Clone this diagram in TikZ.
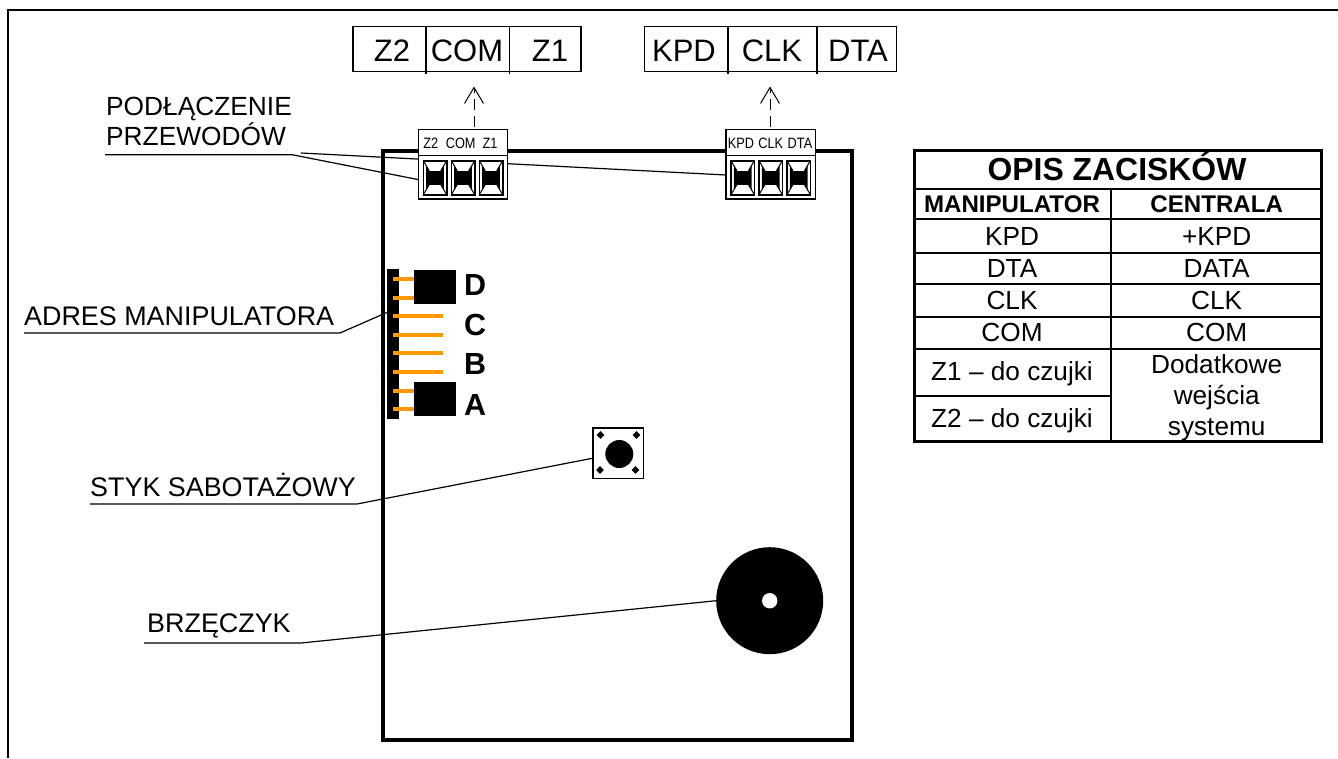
\documentclass[tikz,border=0pt]{standalone}
\usepackage{fontspec}
\setmainfont{Liberation Sans}
\newfontfamily\condfont[FakeStretch=0.85]{Liberation Sans}
\usetikzlibrary{arrows.meta,shapes.geometric}
\definecolor{pin}{RGB}{255,153,0}
\newcommand{\fs}[1]{\fontsize{#1}{#1}\selectfont}
\tikzset{
  cell/.style={draw=black,line width=1.2pt,fill=white,inner sep=0pt,outer sep=0pt},
  blockbox/.style={cell,line width=1.5pt,minimum width=89.4pt,minimum height=69.7pt},
  topcell/.style={anchor=base,inner sep=0pt,font=\fs{31}},
  smalllab/.style={anchor=base,inner sep=0pt,font=\condfont\fs{15}},
  leader/.style={draw=black,line width=1.2pt},
  lab/.style={anchor=base west,inner sep=0pt,font=\fs{26.9}},
  labb/.style={anchor=base west,inner sep=0pt,font=\fs{26.3}},
  pinline/.style={draw=pin,line width=4pt},
  jumper/.style={fill=black,inner sep=0pt,outer sep=0pt,minimum width=41.7pt,minimum height=34pt},
  letter/.style={anchor=base west,inner sep=0pt,font=\bfseries\fs{30.5}},
  tline/.style={draw=black,line width=1.8pt},
  ttext/.style={anchor=base,inner sep=0pt,font=\fs{26.2}},
  thead/.style={anchor=base,inner sep=0pt,font=\bfseries\fs{24.1}},
  upflow/.style={draw=black,line width=1pt,shorten <=2.5pt,dash pattern=on 11pt off 6pt,-{Straight Barb[length=16pt,width=19pt,line width=1pt]}},
  dot/.style={diamond,fill=black,inner sep=0pt,minimum size=8pt}
}
\newcommand{\termcell}[2]{%
  \node[cell,line width=1.6pt,minimum width=23.4pt,minimum height=34pt] (#1) at (#2,177.7) {};
  \node[fill=black,inner sep=0pt,outer sep=0pt,minimum width=11.6pt,minimum height=14pt] (#1c) at (#2,177.7) {};
  \draw[line width=1pt] (#1.north west) -- (#1c.north west) (#1.north east) -- (#1c.north east)
    (#1.south west) -- (#1c.south west) (#1.south east) -- (#1c.south east);
  \fill[black] (#1c.north west) -- ++(-3,-5) -- ++(0,24) -- (#1c.south west) -- cycle;
  \fill[black] (#1c.north east) -- ++(3,-5) -- ++(0,24) -- (#1c.south east) -- cycle;
}
\begin{document}
\begin{tikzpicture}[x=1pt,y=-1pt]
\useasboundingbox (0,0) rectangle (1338,758);
\draw[line width=2.2pt] (8,758) -- (8,10) -- (1338,10);

% top label boxes
\node[cell,minimum width=73pt,minimum height=45pt] (tz2) at (389.5,49.2) {};
\node[cell,minimum width=83.3pt,minimum height=45pt] (tcom) at (467.7,49.2) {};
\node[cell,minimum width=71.7pt,minimum height=45pt] (tz1) at (545.2,49.2) {};
\node[cell,minimum width=83.3pt,minimum height=45pt] (tkpd) at (686.3,49.2) {};
\node[cell,minimum width=89pt,minimum height=45pt] (tclk) at (772.5,49.2) {};
\node[cell,minimum width=79.7pt,minimum height=45pt] (tdta) at (856.9,49.2) {};
\draw[line width=1.2pt] (tz2.south east) -- ++(0,2.5) (tcom.south east) -- ++(0,2.5)
  (tkpd.south east) -- ++(0,2.5) (tclk.south east) -- ++(0,2.5);
\node[topcell] at (392,61) {Z2};
\node[topcell] at (467,61) {COM};
\node[topcell] at (550,61) {Z1};
\node[topcell] at (684,61) {KPD};
\node[topcell] at (772,61) {CLK};
\node[topcell] at (858,61) {DTA};

% board
\node[draw=black,line width=3.6pt,inner sep=0pt,minimum width=469pt,minimum height=589pt,fill=white] (board) at (617.7,445.3) {};

% label anchors for leaders
\coordinate (u1a) at (105,154.7);
\coordinate (u1b) at (292,154.7);
\coordinate (u1c) at (301,153);

% terminal blocks; the wire from the labels runs behind the first one
\coordinate (wireend) at (726,175);
\draw[leader] (u1c) -- (wireend);
\node[blockbox] (b1) at (463,164.2) {};
\node[blockbox] (b2) at (770.85,164.2) {};
\draw[line width=1.3pt] (b1.west |- 0,155.7) -- (b1.east |- 0,155.7);
\draw[line width=1.3pt] (b2.west |- 0,155.7) -- (b2.east |- 0,155.7);
\node[smalllab] at (430.7,148) {Z2};
\node[smalllab] at (460.7,148) {COM};
\node[smalllab] at (490,148) {Z1};
\node[smalllab] at (741,148) {KPD};
\node[smalllab] at (770.7,148) {CLK};
\node[smalllab] at (800,148) {DTA};
\termcell{ta}{435}
\termcell{tb}{463}
\termcell{tc}{491}
\termcell{td}{742.7}
\termcell{te}{770.7}
\termcell{tf}{798.7}

% arrows
\coordinate (up1) at (474,86.5);
\coordinate (up2) at (770,86.5);
\draw[upflow] (b1.north -| up1) -- (up1);
\draw[upflow] (b2.north -| up2) -- (up2);

% labels with leaders
\node[labb] (lpod) at (106,115) {PODŁĄCZENIE};
\node[labb] (lprz) at (106,145) {PRZEWODÓW};
\draw[leader] (u1a) -- (u1b) -- (b1.199.5);

\node[lab] (ladr) at (24,325) {ADRES MANIPULATORA};
\coordinate (u2a) at (24,333);
\coordinate (u2b) at (340,333);
\node[lab] (lsty) at (90,496) {STYK SABOTAŻOWY};
\coordinate (u3a) at (90,504);
\coordinate (u3b) at (357,504);
\node[lab] (lbrz) at (147,632) {BRZĘCZYK};
\coordinate (u4a) at (144,643);
\coordinate (u4b) at (301,643);

% header
\node[fill=black,inner sep=0pt,outer sep=0pt,minimum width=12.3pt,minimum height=149.7pt] (hdr) at (392.85,344.2) {};
\draw[leader] (u2a) -- (u2b) -- (hdr.101);
\foreach \y in {279.3,297.7,316.3,335,353.3,372,390.7,409} \draw[pinline] (393.3,\y) -- (443,\y);
\node[jumper] (jd) at (435.2,287.3) {};
\node[jumper] (ja) at (435.2,399.3) {};
\node[letter] at (464,295) {D};
\node[letter] at (464,335) {C};
\node[letter] at (464,374) {B};
\node[letter] at (464,415) {A};

% tamper switch
\node[cell,line width=1.6pt,minimum size=50.6pt] (sw) at (618,453.3) {};
\node[circle,fill=black,inner sep=0pt,minimum size=28pt] at (619.3,454) {};
\node[dot] at (600.5,435) {};
\node[dot] at (636.5,435) {};
\node[dot] at (600,470) {};
\node[dot] at (635.5,470) {};
\draw[leader] (u3a) -- (u3b) -- (sw.191);

% buzzer
\node[circle,fill=black,inner sep=0pt,outer sep=0pt,minimum size=107pt] (bz) at (769.7,600.7) {};
\node[circle,fill=white,inner sep=0pt,minimum size=15.4pt] at (769.7,600.7) {};
\draw[leader] (u4a) -- (u4b) -- (bz.west);

% table
\node[draw=black,line width=3pt,inner sep=0pt,minimum width=406.7pt,minimum height=291pt] (tab) at (1117.7,296.2) {};
\draw[tline] (tab.west |- 0,189.3) -- (tab.east |- 0,189.3);
\draw[tline] (tab.west |- 0,219.3) -- (tab.east |- 0,219.3);
\draw[tline] (tab.west |- 0,252.7) -- (tab.east |- 0,252.7);
\draw[tline] (tab.west |- 0,284.3) -- (tab.east |- 0,284.3);
\draw[tline] (tab.west |- 0,316.7) -- (tab.east |- 0,316.7);
\draw[tline] (tab.west |- 0,349) -- (tab.east |- 0,349);
\draw[tline] (tab.west |- 0,395.7) -- (1110.7,395.7);
\draw[tline] (1110.7,189.3) -- (1110.7,441.7);
\node[anchor=base,inner sep=0pt,font=\bfseries\fs{31.9}] at (1117,180.7) {OPIS ZACISKÓW};
\node[thead] at (1012,212.7) {MANIPULATOR};
\node[thead] at (1216.7,212.7) {CENTRALA};
\node[ttext] at (1012,245) {KPD};
\node[ttext] at (1216.7,245) {+KPD};
\node[ttext] at (1012,277) {DTA};
\node[ttext] at (1216.7,277) {DATA};
\node[ttext] at (1012,309.3) {CLK};
\node[ttext] at (1216.7,309.3) {CLK};
\node[ttext] at (1012,341) {COM};
\node[ttext] at (1216.7,341) {COM};
\node[ttext] at (1012,380.7) {Z1 – do czujki};
\node[ttext] at (1012,427.3) {Z2 – do czujki};
\node[ttext] at (1216.7,373.3) {Dodatkowe};
\node[ttext] at (1216.7,404) {wejścia};
\node[ttext] at (1216.7,435) {systemu};
\end{tikzpicture}
\end{document}
